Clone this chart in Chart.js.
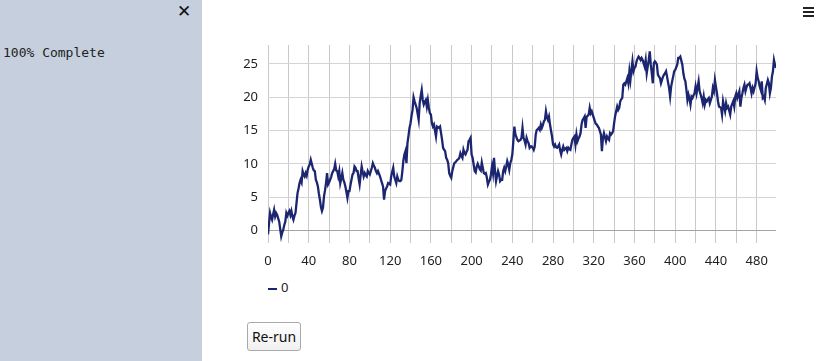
<!DOCTYPE html>
<html>
<head>
<meta charset="utf-8">
<script src="https://cdn.jsdelivr.net/npm/chart.js@4/dist/chart.umd.min.js"></script>
<style>
  body { margin: 0; width: 820px; height: 361px; overflow: hidden; background: #fff; font-family: "Noto Sans", sans-serif; }
  #lateral { position: absolute; left: 0; top: 0; width: 202px; height: 361px; background: #c6cfdd; }
  #cerrar { position: absolute; left: 177px; top: 1px; font: bold 17px "DejaVu Sans", sans-serif; color: #111; }
  #progreso { position: absolute; left: 3px; top: 45px; font: 13px "DejaVu Sans Mono", monospace; color: #222; }
  #menu { position: absolute; left: 803px; top: 7px; width: 11px; }
  #menu span { display: block; height: 2px; background: #222; margin-bottom: 2px; }
  #contenedor { position: absolute; left: 202px; top: 0; width: 618px; height: 275px; }
  #leyenda { position: absolute; left: 268px; top: 278px; font-size: 13px; color: #222; }
  #leyenda i { display: inline-block; width: 9px; height: 2px; background: #1c2570; vertical-align: middle; margin-right: 4px; }
  #rerun { position: absolute; left: 247px; top: 322px; width: 54px; height: 29px; border: 1px solid #a9a9a9; border-radius: 3px;
           background: linear-gradient(#fff, #f0f0f0); font: 14px "Noto Sans", sans-serif; color: #111; padding: 0; }
</style>
</head>
<body>
<div id="lateral">
  <div id="cerrar">✕</div>
  <div id="progreso">100% Complete</div>
</div>
<div id="menu"><span></span><span></span><span></span></div>
<div id="contenedor"><canvas id="grafico" width="618" height="275"></canvas></div>
<div id="leyenda"><i></i>0</div>
<button id="rerun">Re-run</button>

<script>
// Serie (un valor por paso)
const valores = [
  -0.6, 1.0, 2.6, 2.0, 1.6, 2.4, 3.1, 2.1, 2.6, 2.3,
  1.8, 1.3, 0.2, -0.9, -0.3, 0.1, 0.8, 1.3, 2.6, 2.2,
  2.6, 2.9, 2.3, 2.9, 2.1, 1.6, 2.2, 2.6, 4.1, 5.6,
  6.3, 7.1, 7.6, 7.2, 8.9, 8.4, 8.1, 8.6, 8.2, 9.1,
  9.6, 9.9, 10.6, 10.0, 9.4, 9.0, 8.9, 7.6, 7.2, 6.6,
  5.5, 4.6, 3.5, 2.9, 3.4, 5.1, 6.0, 7.1, 8.6, 6.9,
  7.2, 7.6, 8.0, 8.6, 8.9, 9.2, 10.0, 9.0, 8.9, 8.1,
  8.9, 7.1, 7.8, 8.6, 7.6, 7.2, 6.6, 5.8, 4.9, 5.9,
  5.9, 6.8, 7.6, 8.4, 8.6, 9.6, 9.4, 8.9, 8.9, 7.8,
  6.9, 8.3, 9.6, 8.8, 8.1, 8.6, 8.3, 8.1, 8.9, 8.6,
  8.4, 8.9, 9.4, 10.1, 9.7, 9.4, 8.9, 8.6, 8.9, 8.5,
  8.1, 7.6, 7.1, 6.6, 4.6, 5.9, 6.3, 6.6, 7.1, 7.0,
  6.9, 8.1, 8.8, 9.4, 8.1, 7.6, 7.1, 8.1, 7.6, 7.4,
  7.4, 7.6, 8.9, 10.5, 11.4, 11.9, 10.1, 13.1, 14.2, 15.4,
  16.1, 17.2, 18.1, 20.0, 19.4, 18.9, 18.4, 17.5, 16.6, 19.1,
  20.2, 21.1, 19.6, 18.9, 19.3, 19.6, 18.6, 19.6, 18.4, 17.6,
  17.4, 16.1, 15.6, 15.9, 15.0, 14.1, 15.6, 15.5, 15.4, 15.6,
  14.6, 13.6, 12.4, 12.1, 11.9, 10.9, 10.6, 10.1, 8.6, 8.2,
  7.9, 8.9, 9.5, 10.1, 10.2, 10.4, 10.6, 10.7, 10.9, 11.6,
  11.2, 10.9, 12.1, 11.6, 11.4, 11.8, 12.1, 13.4, 13.6, 13.9,
  11.4, 10.9, 9.9, 8.9, 8.7, 9.6, 10.0, 9.6, 9.2, 9.0,
  10.2, 9.4, 8.6, 8.5, 8.6, 7.9, 6.9, 7.3, 7.6, 8.4,
  9.6, 8.6, 10.9, 8.9, 7.4, 8.2, 8.9, 8.4, 7.4, 7.6,
  7.6, 8.9, 9.4, 8.9, 9.6, 10.4, 9.9, 9.1, 10.1, 10.6,
  11.4, 13.4, 15.6, 14.4, 14.0, 13.6, 13.4, 13.5, 13.6, 13.9,
  15.4, 13.9, 13.5, 12.9, 13.9, 13.4, 13.1, 12.4, 12.6, 12.6,
  12.4, 12.1, 12.6, 14.4, 15.1, 15.2, 15.4, 15.1, 15.9, 15.4,
  15.8, 16.4, 16.6, 17.9, 17.0, 16.6, 17.1, 15.9, 15.0, 14.1,
  12.9, 12.6, 12.9, 12.5, 12.4, 12.6, 12.9, 12.0, 11.4, 12.1,
  12.6, 12.1, 12.3, 12.4, 11.9, 12.4, 12.2, 12.1, 12.9, 13.6,
  13.9, 14.1, 12.9, 14.4, 13.4, 13.8, 14.1, 14.6, 15.9, 16.6,
  16.8, 17.1, 15.4, 17.1, 17.2, 17.4, 18.4, 17.6, 17.9, 17.4,
  16.9, 16.4, 16.0, 15.9, 15.6, 15.4, 14.9, 14.4, 11.9, 13.9,
  14.6, 14.0, 13.4, 14.1, 13.8, 13.6, 14.6, 14.4, 14.6, 14.9,
  16.1, 17.2, 17.9, 18.6, 18.1, 18.4, 19.4, 19.7, 19.9, 21.9,
  22.1, 21.9, 22.4, 22.9, 22.1, 23.9, 22.6, 24.1, 25.4, 23.9,
  24.4, 24.6, 25.4, 25.8, 26.1, 25.9, 25.6, 25.9, 25.6, 25.1,
  24.6, 25.6, 23.6, 24.6, 25.6, 26.9, 24.9, 23.6, 22.1, 25.1,
  25.4, 25.2, 24.9, 23.4, 23.1, 22.9, 22.1, 22.6, 23.1, 23.4,
  23.6, 23.9, 23.1, 22.2, 21.4, 20.1, 21.6, 22.4, 23.1, 23.9,
  24.1, 24.5, 24.9, 25.9, 25.9, 26.1, 25.5, 24.9, 23.6, 22.8,
  22.4, 21.1, 19.6, 20.4, 19.8, 18.9, 20.1, 19.9, 20.3, 20.6,
  21.6, 20.6, 21.5, 22.4, 20.9, 20.4, 19.8, 19.1, 20.1, 18.9,
  19.6, 19.4, 19.7, 19.9, 19.1, 19.6, 20.1, 21.4, 20.9, 22.6,
  21.6, 20.6, 19.4, 18.6, 18.5, 18.4, 17.4, 19.4, 18.6, 17.9,
  19.1, 18.4, 18.6, 18.0, 17.4, 18.6, 19.0, 19.4, 18.6, 20.1,
  20.6, 19.9, 20.4, 20.9, 18.6, 19.9, 20.6, 21.4, 21.9, 20.9,
  21.5, 21.9, 21.9, 22.1, 21.4, 20.6, 21.4, 20.9, 21.5, 22.1,
  23.9, 22.9, 22.4, 21.6, 21.1, 22.4, 19.9, 20.1, 19.6, 21.4,
  22.0, 22.6, 22.1, 20.6, 21.4, 23.1, 23.9, 25.6, 24.9, 24.4
];
const pasos = valores.map((_, i) => i);
const ticksX = [0, 20, 40, 60, 80, 100, 120, 140, 160, 180, 200, 220, 240, 260, 280, 300, 320, 340, 360, 380, 400, 420, 440, 460, 480];
const ticksY = [0, 5, 10, 15, 20, 25];

const fuente = { family: '"Noto Sans", sans-serif', size: 13 };

new Chart(document.getElementById('grafico'), {
    type: 'line',
    data: {
        labels: pasos,
        datasets: [{
            label: '0',
            data: pasos.map(i => ({ x: i, y: valores[i] })),
            borderColor: '#1c2570',
            borderWidth: 2.3,
            pointRadius: 0,
            tension: 0,
            fill: false
        }]
    },
    options: {
        responsive: false,
        animation: false,
        maintainAspectRatio: false,
        layout: { padding: { left: 0, right: 44, top: 45, bottom: 0 } },
        plugins: { legend: { display: false }, tooltip: { enabled: false } },
        scales: {
            x: {
                type: 'linear',
                min: 0,
                max: 499,
                afterBuildTicks: (escala) => { escala.ticks = ticksX.map(v => ({ value: v })); },
                afterFit: (escala) => { escala.height = 32; },
                border: { display: false },
                grid: { color: '#c9c9c9', drawTicks: false },
                ticks: {
                    autoSkip: false,
                    maxRotation: 0,
                    padding: 10,
                    color: '#222',
                    font: fuente,
                    callback: (v) => (v % 40 === 0 ? v : '')
                }
            },
            y: {
                min: -1.9,
                max: 27.85,
                afterBuildTicks: (escala) => { escala.ticks = ticksY.map(v => ({ value: v })); },
                afterFit: (escala) => { escala.width = 66; },
                border: { display: false },
                grid: {
                    drawTicks: false,
                    color: (c) => (c.tick && c.tick.value === 0 ? '#a4a4a4' : '#d4d4d4')
                },
                ticks: { autoSkip: false, padding: 10, color: '#222', font: fuente }
            }
        }
    }
});
</script>
</body>
</html>
